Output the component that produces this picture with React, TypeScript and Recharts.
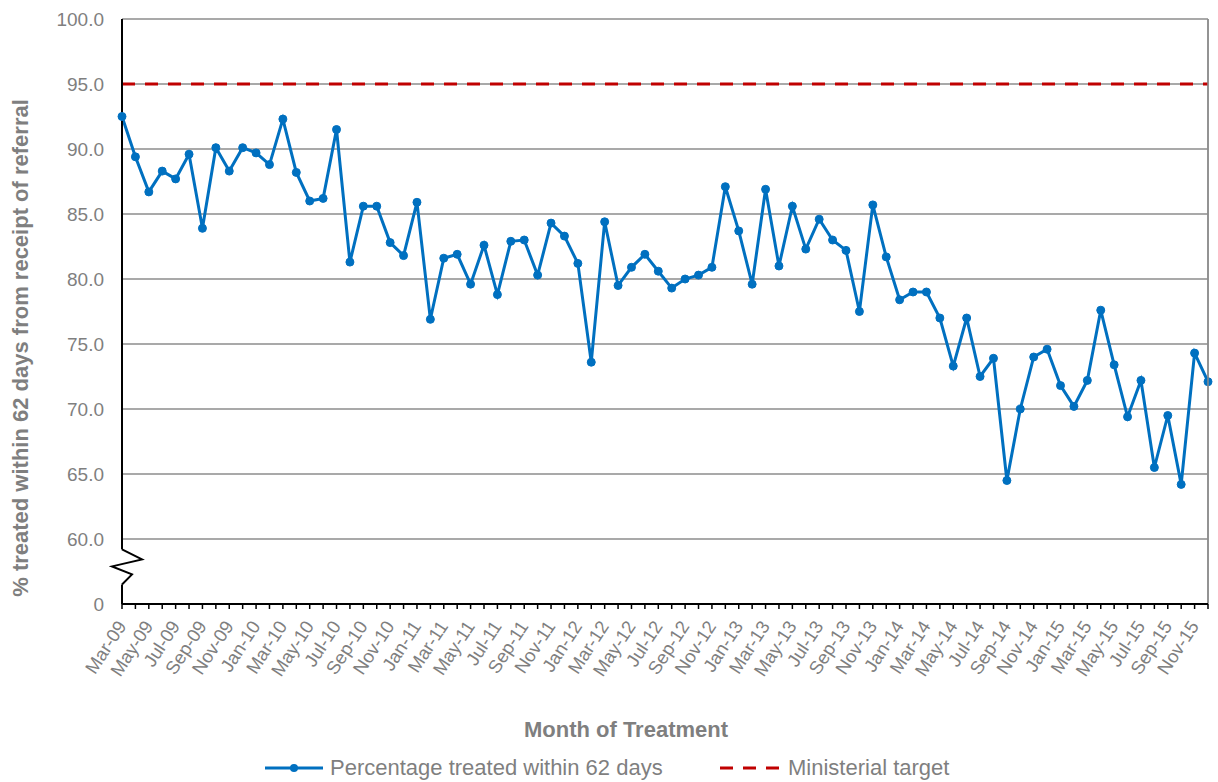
import React from 'react';
import { LineChart, Line, XAxis, YAxis, CartesianGrid, ReferenceLine, Legend, Label } from 'recharts';

const months = [
  'Mar-09', 'Apr-09', 'May-09', 'Jun-09', 'Jul-09', 'Aug-09', 'Sep-09', 'Oct-09', 'Nov-09', 'Dec-09',
  'Jan-10', 'Feb-10', 'Mar-10', 'Apr-10', 'May-10', 'Jun-10', 'Jul-10', 'Aug-10', 'Sep-10', 'Oct-10', 'Nov-10', 'Dec-10',
  'Jan-11', 'Feb-11', 'Mar-11', 'Apr-11', 'May-11', 'Jun-11', 'Jul-11', 'Aug-11', 'Sep-11', 'Oct-11', 'Nov-11', 'Dec-11',
  'Jan-12', 'Feb-12', 'Mar-12', 'Apr-12', 'May-12', 'Jun-12', 'Jul-12', 'Aug-12', 'Sep-12', 'Oct-12', 'Nov-12', 'Dec-12',
  'Jan-13', 'Feb-13', 'Mar-13', 'Apr-13', 'May-13', 'Jun-13', 'Jul-13', 'Aug-13', 'Sep-13', 'Oct-13', 'Nov-13', 'Dec-13',
  'Jan-14', 'Feb-14', 'Mar-14', 'Apr-14', 'May-14', 'Jun-14', 'Jul-14', 'Aug-14', 'Sep-14', 'Oct-14', 'Nov-14', 'Dec-14',
  'Jan-15', 'Feb-15', 'Mar-15', 'Apr-15', 'May-15', 'Jun-15', 'Jul-15', 'Aug-15', 'Sep-15', 'Oct-15', 'Nov-15', 'Dec-15',
];

const pctTreated = [
  92.5, 89.4, 86.7, 88.3, 87.7, 89.6, 83.9, 90.1, 88.3, 90.1,
  89.7, 88.8, 92.3, 88.2, 86.0, 86.2, 91.5, 81.3, 85.6, 85.6, 82.8, 81.8,
  85.9, 76.9, 81.6, 81.9, 79.6, 82.6, 78.8, 82.9, 83.0, 80.3, 84.3, 83.3,
  81.2, 73.6, 84.4, 79.5, 80.9, 81.9, 80.6, 79.3, 80.0, 80.3, 80.9, 87.1,
  83.7, 79.6, 86.9, 81.0, 85.6, 82.3, 84.6, 83.0, 82.2, 77.5, 85.7, 81.7,
  78.4, 79.0, 79.0, 77.0, 73.3, 77.0, 72.5, 73.9, 64.5, 70.0, 74.0, 74.6,
  71.8, 70.2, 72.2, 77.6, 73.4, 69.4, 72.2, 65.5, 69.5, 64.2, 74.3, 72.1,
];

const TARGET = 95;
// 55 stands in for the "0" below the axis break
const yTicks = [55, 60, 65, 70, 75, 80, 85, 90, 95, 100];

const data = months.map((month, i) => ({ month, pct: pctTreated[i], target: TARGET }));

const W = 1218;
const H = 782;
const PLOT_TOP = 19;
const PLOT_LEFT = 122;
const PLOT_RIGHT = 1208;
const PLOT_BOTTOM = 604;
const FONT = '"Liberation Sans", Arial, sans-serif';
const GREY_TEXT = '#7f7f7f';
const GRID = '#8c8c8c';
const BLUE = '#0070C0';
const RED = '#C00000';

const yOf = (v: number) => PLOT_TOP + ((100 - v) / 45) * (PLOT_BOTTOM - PLOT_TOP);

const MonthTick = ({ x, y, payload, index }: any) => {
  if (index % 2 !== 0) return null;
  const ax = x + 5;
  const ay = y + 15;
  return (
    <text
      x={ax}
      y={ay}
      transform={`rotate(-57, ${ax}, ${ay})`}
      textAnchor="end"
      fill={GREY_TEXT}
      fontSize={18.5}
      fontFamily={FONT}
    >
      {payload.value}
    </text>
  );
};

const LegendContent = () => (
  <div style={{ position: 'relative', width: W, height: 28, fontFamily: FONT, fontSize: 22, color: GREY_TEXT }}>
    <div style={{ position: 'absolute', left: 265, top: 0, height: 28, display: 'flex', alignItems: 'center' }}>
      <svg width={58} height={28}>
        <line x1={0} y1={14} x2={58} y2={14} stroke={BLUE} strokeWidth={3} />
        <circle cx={29} cy={14} r={4} fill={BLUE} />
      </svg>
      <span style={{ marginLeft: 7, whiteSpace: 'nowrap' }}>Percentage treated within 62 days</span>
    </div>
    <div style={{ position: 'absolute', left: 720, top: 0, height: 28, display: 'flex', alignItems: 'center' }}>
      <svg width={60} height={28}>
        <line x1={0} y1={14} x2={60} y2={14} stroke={RED} strokeWidth={3} strokeDasharray="13 10" />
      </svg>
      <span style={{ marginLeft: 8, whiteSpace: 'nowrap' }}>Ministerial target</span>
    </div>
  </div>
);

const AxisBreak = () => {
  const hi = yOf(59.2);
  const lo = yOf(56.5);
  const pts = [
    [PLOT_LEFT, hi],
    [PLOT_LEFT + 20, hi + 10],
    [PLOT_LEFT - 10, hi + 17],
    [PLOT_LEFT + 10, hi + 25],
    [PLOT_LEFT, lo],
  ]
    .map((p) => p.join(','))
    .join(' ');
  return (
    <svg width={W} height={H} style={{ position: 'absolute', left: 0, top: 0, pointerEvents: 'none' }}>
      <rect x={PLOT_LEFT - 3} y={hi} width={6} height={lo - hi} fill="#fff" />
      <polyline points={pts} fill="none" stroke="#000" strokeWidth={2} />
      <line x1={PLOT_RIGHT} y1={PLOT_TOP} x2={PLOT_RIGHT} y2={PLOT_BOTTOM - 1} stroke={GRID} strokeWidth={1.5} />
    </svg>
  );
};

export default function App() {
  return (
    <div style={{ position: 'absolute', left: 0, top: 0, width: W, height: H, background: '#fff' }}>
      <LineChart
        width={W}
        height={H}
        data={data}
        margin={{ top: PLOT_TOP, right: W - PLOT_RIGHT, left: 0, bottom: 0 }}
      >
        <CartesianGrid vertical={false} stroke={GRID} strokeWidth={1.5} />
        <ReferenceLine x="Dec-15" stroke={GRID} strokeWidth={1.5} />
        <XAxis
          dataKey="month"
          interval={0}
          height={H - PLOT_BOTTOM}
          tick={<MonthTick />}
          tickSize={5}
          tickMargin={2}
          tickLine={{ stroke: '#000', strokeWidth: 1.5 }}
          axisLine={{ stroke: '#000', strokeWidth: 2 }}
        >
          <Label
            content={() => (
              <text
                x={626}
                y={737}
                textAnchor="middle"
                fill={GREY_TEXT}
                fontSize={22}
                fontWeight="bold"
                fontFamily={FONT}
              >
                Month of Treatment
              </text>
            )}
          />
        </XAxis>
        <YAxis
          type="number"
          domain={[55, 100]}
          ticks={yTicks}
          interval={0}
          allowDataOverflow
          width={PLOT_LEFT}
          tickLine={false}
          tickSize={0}
          tickMargin={18}
          axisLine={{ stroke: '#000', strokeWidth: 2 }}
          tick={{ fill: GREY_TEXT, fontSize: 19, fontFamily: FONT }}
          tickFormatter={(v: number) => (v === 55 ? '0' : v.toFixed(1))}
        >
          <Label
            content={() => (
              <text
                x={28}
                y={348}
                transform="rotate(-90, 28, 348)"
                textAnchor="middle"
                fill={GREY_TEXT}
                fontSize={22}
                fontWeight="bold"
                fontFamily={FONT}
              >
                % treated within 62 days from receipt of referral
              </text>
            )}
          />
        </YAxis>
        <Line
          dataKey="target"
          stroke={RED}
          strokeWidth={3}
          strokeDasharray="13 10"
          dot={false}
          activeDot={false}
          isAnimationActive={false}
        />
        <Line
          dataKey="pct"
          stroke={BLUE}
          strokeWidth={3}
          dot={{ r: 4, fill: BLUE, stroke: BLUE, strokeWidth: 1 }}
          activeDot={false}
          isAnimationActive={false}
        />
        <Legend
          layout="horizontal"
          verticalAlign="middle"
          align="center"
          wrapperStyle={{ top: 754, left: 0, width: W, height: 28 }}
          content={<LegendContent />}
        />
      </LineChart>
      <AxisBreak />
    </div>
  );
}
